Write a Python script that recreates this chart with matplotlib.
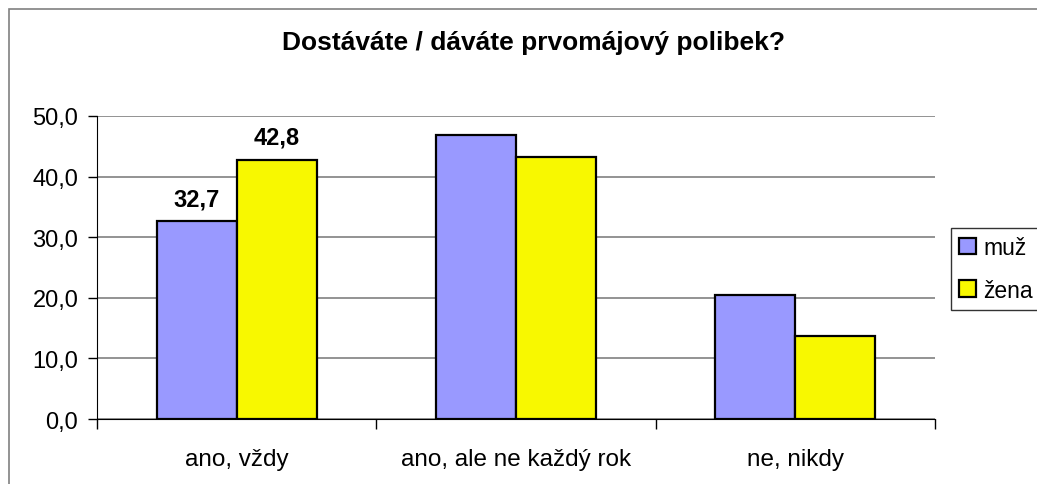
"""
Recreation of an Excel-style grouped bar chart: Dostáváte / dáváte prvomájový polibek?
Saves out.png (1037x485).
"""
import matplotlib.pyplot as plt
import numpy as np
from matplotlib.patches import Rectangle
from matplotlib.ticker import FuncFormatter, MultipleLocator

plt.rcParams["font.family"] = ["Liberation Sans", "DejaVu Sans"]

categories = ["ano, vždy", "ano, ale ne každý rok", "ne, nikdy"]
muz = [32.7, 46.9, 20.4]
zena = [42.8, 43.2, 13.7]
series_names = ["muž", "žena"]
colors = ["#9999ff", "#f8f800"]

W, H = 1037, 485
fig = plt.figure(figsize=(W / 100, H / 100), dpi=100)
fig.patch.set_facecolor("white")

# axes box in pixel coords: left 97, right 935, top 117, bottom 420
ax = fig.add_axes([97 / W, 1 - 420 / H, (935 - 97) / W, (420 - 117) / H])

x = np.arange(len(categories))
bw = 0.286
for i, (vals, name, c) in enumerate(zip([muz, zena], series_names, colors)):
    ax.bar(x + (i - 0.5) * bw, vals, bw, color=c, edgecolor="black",
           linewidth=1.6, label=name, zorder=3)

# data labels only on the first category
fmt = lambda v: f"{v:.1f}".replace(".", ",")
ax.text(x[0] - 0.5 * bw, muz[0] + 2.6, fmt(muz[0]),
        ha="center", va="baseline", fontsize=17, fontweight="bold")
ax.text(x[0] + 0.5 * bw, zena[0] + 2.6, fmt(zena[0]),
        ha="center", va="baseline", fontsize=17, fontweight="bold")

ax.set_xlim(-0.5, len(categories) - 0.5)
ax.set_ylim(0, 50)
ax.yaxis.set_major_locator(MultipleLocator(10))
ax.yaxis.set_major_formatter(FuncFormatter(lambda v, p: fmt(v)))
ax.grid(axis="y", color="#808080", linewidth=1.2, zorder=0)

ax.set_xticks(x)
ax.set_xticklabels(categories, fontsize=17.5)
ax.set_xticks(np.arange(len(categories) + 1) - 0.5, minor=True)
ax.tick_params(axis="x", which="major", length=0, pad=21)
ax.tick_params(axis="x", which="minor", length=7, width=1, color="black")
ax.tick_params(axis="y", labelsize=17, length=6.5, width=1, color="black", pad=7)

for side in ["top", "right"]:
    ax.spines[side].set_visible(False)
ax.spines["left"].set_color("black")
ax.spines["bottom"].set_color("black")

fig.text(534 / W, 1 - 43 / H, "Dostáváte / dáváte prvomájový polibek?",
         ha="center", va="center", fontsize=19, fontweight="bold")

leg = ax.legend(loc="upper left", bbox_to_anchor=(951 / W, 1 - 229 / H),
                bbox_transform=fig.transFigure, fontsize=16.5, frameon=True,
                fancybox=False, edgecolor="black", handlelength=0.75,
                handleheight=0.75, handletextpad=0.3, borderpad=0.35,
                labelspacing=0.85, borderaxespad=0)
leg.get_frame().set_linewidth(1)

# chart-area border
fig.patches.append(Rectangle((9 / W, -0.1), 1.2, 1 - 10 / H + 0.1,
                             transform=fig.transFigure, fill=False,
                             edgecolor="#808080", linewidth=1.2))

fig.savefig("out.png", dpi=100)
